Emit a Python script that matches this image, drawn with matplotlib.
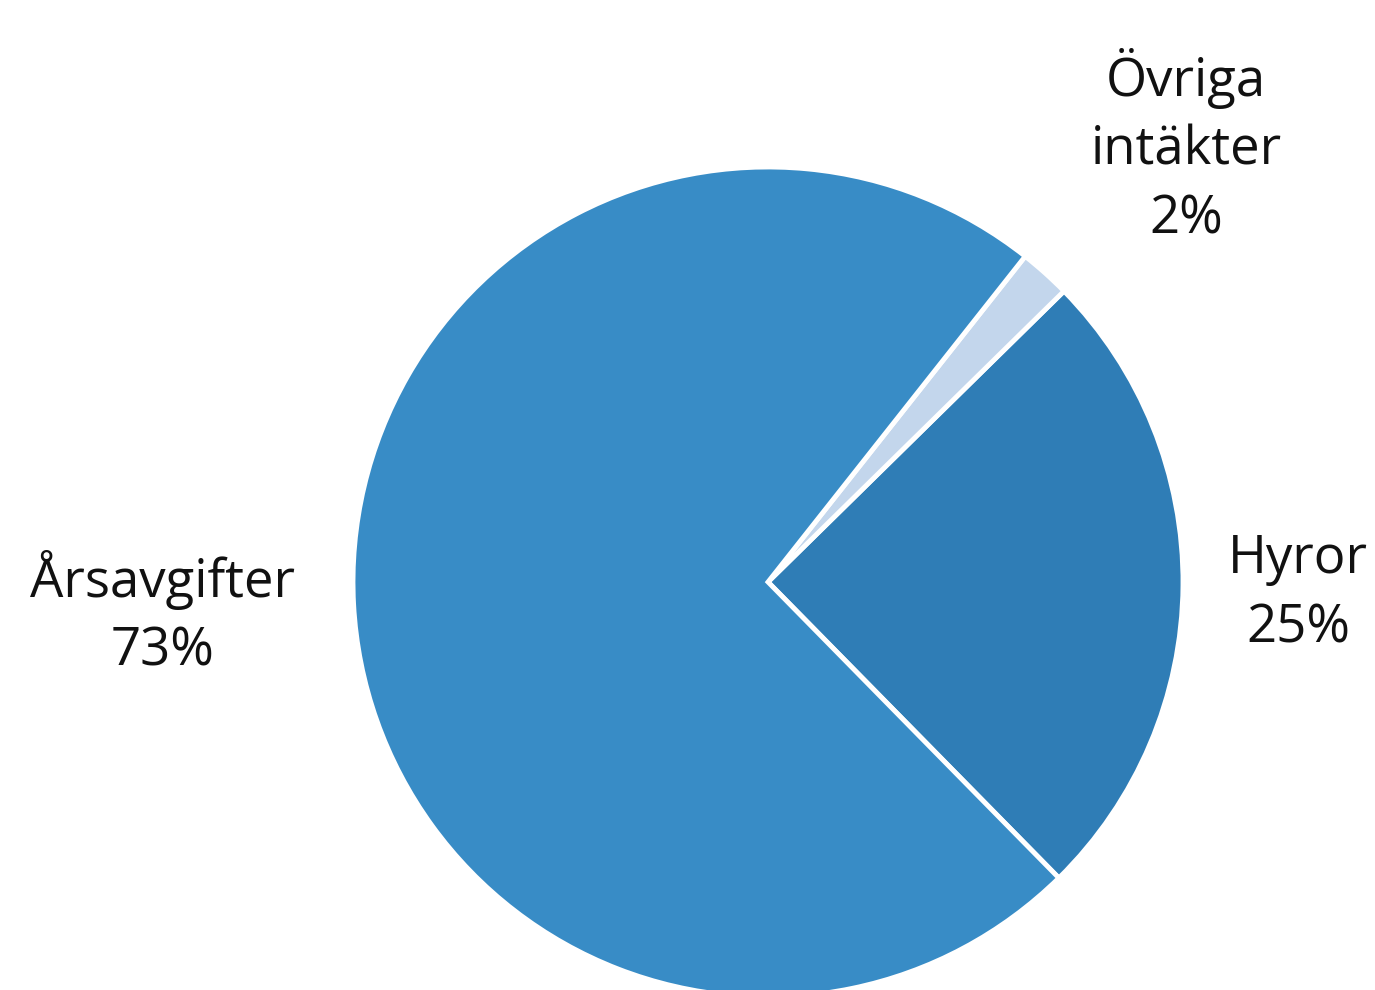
import matplotlib.pyplot as plt

labels = ["Hyror", "Övriga\nintäkter", "Årsavgifter"]
shares = [25, 2, 73]
colors = ["#2f7db6", "#c3d6ec", "#388cc6"]

fig = plt.figure(figsize=(13.75, 9.9), dpi=100)
ax = fig.add_axes([0, 0, 1, 1])

# pie centre and radius in pixel units of the figure
cx, cy, r = 768, 990 - 582, 415

ax.pie(shares, colors=colors, startangle=-45.5, counterclock=True,
       center=(cx, cy), radius=r, frame=True,
       wedgeprops=dict(edgecolor="white", linewidth=3.5))
ax.set_xlim(0, 1375)
ax.set_ylim(0, 990)
ax.set_aspect("equal")
ax.axis("off")

text_kw = dict(family=["Open Sans", "DejaVu Sans"], fontsize=38, weight="medium",
               ha="center", va="center", linespacing=1.38, color="#111111")
label_pos = [(1298, 990 - 594), (1186, 990 - 147), (163, 990 - 614)]
for lab, val, (x, y) in zip(labels, shares, label_pos):
    ax.text(x, y, f"{lab}\n{val}%", **text_kw)

fig.savefig("out.png", dpi=100)
